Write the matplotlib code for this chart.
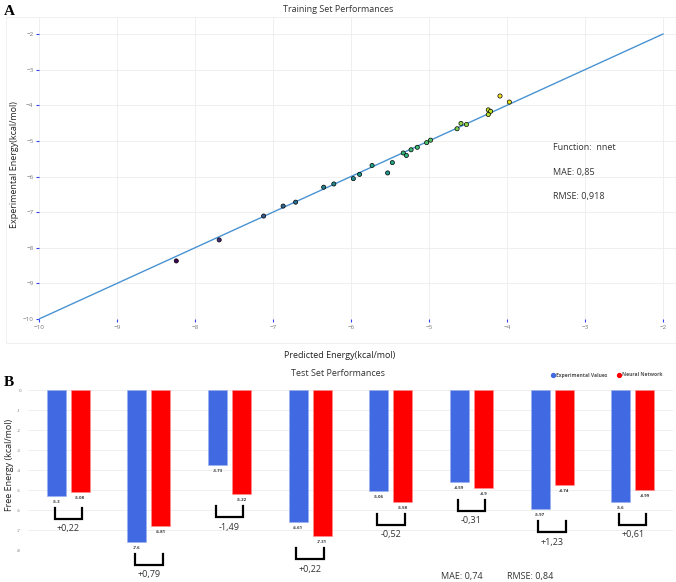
import numpy as np
import matplotlib
matplotlib.use("Agg")
import matplotlib.pyplot as plt
from matplotlib.lines import Line2D

plt.rcParams['font.family'] = ['Open Sans', 'DejaVu Sans']
plt.rcParams['axes.unicode_minus'] = True

# 训练集数据 (预测值 / 实验值)
train_pred = [-8.24, -7.69, -7.12, -6.87, -6.71, -6.35, -6.22, -5.97, -5.89, -5.73,
              -5.53, -5.47, -5.33, -5.29, -5.23, -5.15, -5.03, -4.98, -4.64, -4.59,
              -4.52, -4.24, -4.21, -4.24, -4.09, -3.97]
train_exp = [-8.37, -7.78, -7.11, -6.83, -6.72, -6.30, -6.21, -6.06, -5.94, -5.69,
             -5.90, -5.61, -5.34, -5.41, -5.25, -5.18, -5.05, -4.98, -4.66, -4.51,
             -4.54, -4.13, -4.17, -4.26, -3.74, -3.91]
train_ticks = [-10, -9, -8, -7, -6, -5, -4, -3, -2]

# 测试集数据
test_exp = [-5.3, -7.6, -3.73, -6.61, -5.06, -4.59, -5.97, -5.6]
test_nn = [-5.08, -6.81, -5.22, -7.31, -5.58, -4.9, -4.74, -4.99]
test_diff = ['+0,22', '+0,79', '-1,49', '+0,22', '-0,52', '-0,31', '+1,23', '+0,61']
bar_ticks = [0, -1, -2, -3, -4, -5, -6, -7, -8]

W, H = 676, 582
fig = plt.figure(figsize=(W / 100, H / 100), dpi=100)


def box(x0, y0, x1, y1):
    return [x0 / W, 1 - y1 / H, (x1 - x0) / W, (y1 - y0) / H]


tick_col = '#777777'
grid_col = '#ececec'

# 外框
fig.patches.append(plt.Rectangle((6 / W, 1 - 343 / H), 670 / W, 326 / H, transform=fig.transFigure,
                                 fill=False, edgecolor='#eeeeee', linewidth=0.6))

# ---------------- 子图A: 训练集 ----------------
ax1 = fig.add_axes(box(39, 17, 676, 319))
ax1.set_xlim(-10, -10 + 637 / 78)
ax1.set_ylim(-10, -2 + 17 / 35.6)
ax1.plot([-10, -2], [-10, -2], color='#4a93d3', linewidth=1.0, zorder=2)
ax1.scatter(train_pred, train_exp, c=train_exp, cmap='viridis', s=9,
            edgecolors='black', linewidths=0.5, zorder=3)
ax1.set_xticks(train_ticks)
ax1.set_yticks(train_ticks)
ax1.set_xticklabels([f'\u2212{abs(t)}' for t in train_ticks])
ax1.set_yticklabels([f'\u2212{abs(t)}' for t in train_ticks])
ax1.tick_params(labelsize=4.5, labelcolor=tick_col, color='#3344ee', length=2.5, width=0.8, pad=1.5)
ax1.grid(True, color=grid_col, linewidth=0.6)
ax1.set_axisbelow(True)
for s in ax1.spines.values():
    s.set_visible(False)

fig.text(4 / W, 1 - 15 / H, 'A', family='Liberation Serif', fontweight='bold', fontsize=11)
fig.text(338 / W, 1 - 10 / H, 'Training Set Performances', ha='center', va='center', fontsize=6.5, color='#333333')
fig.text(15 / W, 1 - 165 / H, 'Experimental Energy(kcal/mol)', ha='center', va='center',
         rotation=90, fontsize=6.5, color='#222222')
fig.text(340 / W, 1 - 355 / H, 'Predicted Energy(kcal/mol)', ha='center', va='center', fontsize=6.5, color='#222222')
fig.text(553 / W, 1 - 147 / H, 'Function:  nnet', va='center', fontsize=6.5, color='#333333')
fig.text(553 / W, 1 - 172 / H, 'MAE: 0,85', va='center', fontsize=6.5, color='#333333')
fig.text(553 / W, 1 - 197 / H, 'RMSE: 0,918', va='center', fontsize=6.5, color='#333333')

# ---------------- 子图B: 测试集 ----------------
ax2 = fig.add_axes(box(28, 390, 673, 550))
ax2.set_xlim(-0.5, 7.5)
ax2.set_ylim(-8, 0)
x = np.arange(len(test_exp))
bw = 0.236
off = 0.149
ax2.bar(x - off, test_exp, bw, color='#4169e1', edgecolor='#9bb0ef', linewidth=0.4, zorder=2)
ax2.bar(x + off, test_nn, bw, color='#ff0000', edgecolor='#ff9090', linewidth=0.4, zorder=2)

for i in range(len(test_exp)):
    ax2.text(x[i] - off, test_exp[i] - 0.3, f'{test_exp[i]:g}', ha='center', va='center',
             fontsize=3.2, fontweight='bold', color='#333333')
    ax2.text(x[i] + off, test_nn[i] - 0.3, f'{test_nn[i]:g}', ha='center', va='center',
             fontsize=3.2, fontweight='bold', color='#333333')
    top = min(test_exp[i], test_nn[i]) - 0.6
    bot = top - 0.55
    ax2.plot([x[i] - 0.17, x[i] - 0.17, x[i] + 0.17, x[i] + 0.17], [top, bot, bot, top],
             color='black', linewidth=1.6, clip_on=False, solid_joinstyle='miter')
    ax2.text(x[i], bot - 0.5, test_diff[i], ha='center', va='center', fontsize=6.5,
             color='#333333', clip_on=False)

ax2.set_xticks([])
ax2.set_yticks(bar_ticks)
ax2.set_yticklabels([str(t) for t in bar_ticks])
ax2.tick_params(labelsize=3.2, labelcolor=tick_col, length=0, pad=5)
ax2.grid(True, axis='y', color=grid_col, linewidth=0.6)
ax2.set_axisbelow(True)
for s in ax2.spines.values():
    s.set_visible(False)

fig.text(4 / W, 1 - 386 / H, 'B', family='Liberation Serif', fontweight='bold', fontsize=11)
fig.text(338 / W, 1 - 374 / H, 'Test Set Performances', ha='center', va='center', fontsize=6.5, color='#333333')
fig.text(10 / W, 1 - 465 / H, 'Free Energy (kcal/mol)', ha='center', va='center',
         rotation=90, fontsize=6.5, color='#222222')
handles = [Line2D([], [], marker='o', linestyle='', color='#4169e1', markersize=2.8),
           Line2D([], [], marker='o', linestyle='', color='#ff0000', markersize=2.8)]
fig.legend(handles, ['Experimental Values', 'Neural Network'], ncol=2, frameon=False,
           loc='center right', bbox_to_anchor=(667 / W, 1 - 375 / H),
           prop={'size': 3.6, 'weight': 'bold'}, labelcolor='#555555',
           handletextpad=0.3, columnspacing=1.8, handlelength=0.8)
fig.text(462 / W, 1 - 577 / H, 'MAE: 0,74', ha='center', va='center', fontsize=6.5, color='#333333')
fig.text(530 / W, 1 - 577 / H, 'RMSE: 0,84', ha='center', va='center', fontsize=6.5, color='#333333')

fig.savefig('out.png', dpi=100, facecolor='white')
